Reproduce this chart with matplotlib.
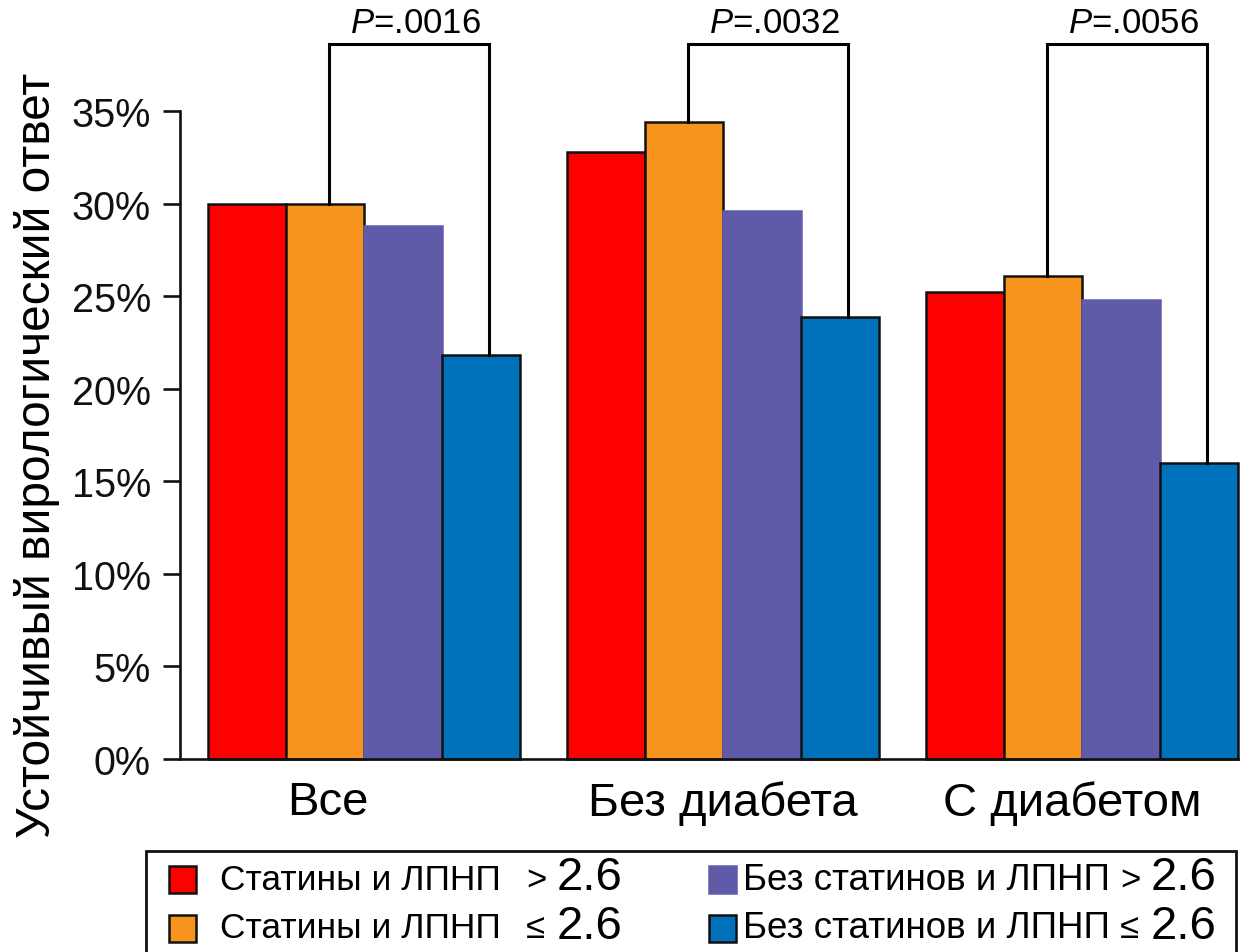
import matplotlib
matplotlib.use("Agg")
import matplotlib.pyplot as plt
from matplotlib.patches import Rectangle
import numpy as np

plt.rcParams['font.family'] = ['Liberation Sans', 'DejaVu Sans']
plt.rcParams['mathtext.fontset'] = 'custom'
plt.rcParams['mathtext.rm'] = 'Liberation Sans'
plt.rcParams['mathtext.it'] = 'Liberation Sans:italic'

# Data
groups = ["Все", "Без диабета", "С диабетом"]
statin_high = [30.0, 32.8, 25.2]      # Статины и ЛПНП > 2.6
statin_low = [30.0, 34.4, 26.1]       # Статины и ЛПНП ≤ 2.6
nostatin_high = [28.8, 29.6, 24.8]    # Без статинов и ЛПНП > 2.6
nostatin_low = [21.8, 23.9, 16.0]     # Без статинов и ЛПНП ≤ 2.6
p_values = ["P=.0016", "P=.0032", "P=.0056"]

series_labels = ["Статины и ЛПНП", "Статины и ЛПНП",
                 "Без статинов и ЛПНП", "Без статинов и ЛПНП"]
series_ops = [">", "≤", ">", "≤"]
threshold = "2.6"
yticks = [0, 5, 10, 15, 20, 25, 30, 35]
ylabel = "Устойчивый вирологический ответ"

series = [statin_high, statin_low, nostatin_high, nostatin_low]
colors = ["#FF0000", "#F7941E", "#5F5BA9", "#0071BB"]
edges = ["#111111", "#111111", "#5F5BA9", "#111111"]

W, H = 1241, 953
fig = plt.figure(figsize=(W / 100, H / 100), dpi=100)
ax = fig.add_axes([180 / W, 1 - 760 / H, (1238 - 180) / W, (760 - 112) / H])

spacing = 4.6
centers = np.arange(len(groups)) * spacing
offsets = [-1.5, -0.5, 0.5, 1.5]

for vals, off, c, ec in zip(series, offsets, colors, edges):
    ax.bar(centers + off, vals, width=1.0, color=c, edgecolor=ec,
           linewidth=1.8, zorder=2, clip_on=False)

# Significance brackets between statin ≤2.6 and no-statin ≤2.6
bracket_top = 38.6
for i, p in enumerate(p_values):
    xl = centers[i] - 0.45
    xr = centers[i] + 1.6
    ax.plot([xl, xl, xr, xr],
            [statin_low[i], bracket_top, bracket_top, nostatin_low[i]],
            color="black", lw=2.2, clip_on=False, zorder=3,
            solid_joinstyle="miter")
    ax.text((xl + xr) / 2 + 0.08, bracket_top + 0.28, "$P$" + p[1:],
            ha="center", va="bottom", fontsize=25)

ax.set_xlim(-2.36, centers[-1] + 2.0)
ax.set_ylim(0, 35)

ax.spines["top"].set_visible(False)
ax.spines["right"].set_visible(False)
ax.spines["left"].set_bounds(0, 35)
for s in ("left", "bottom"):
    ax.spines[s].set_linewidth(1.9)
    ax.spines[s].set_color("#111111")

ax.set_yticks(yticks)
ax.set_yticklabels([f"{v}%" for v in yticks])
ax.tick_params(axis="y", length=12, width=1.9, pad=9, labelsize=28.5,
               colors="#111111")

label_shift = [-0.47, 0.0, -0.12]
ax.set_xticks(centers + np.array(label_shift))
ax.set_xticklabels(groups)
ax.tick_params(axis="x", length=0, pad=15, labelsize=34)

fig.text(37 / W, 1 - 455 / H, ylabel, rotation=90, ha="center",
         va="center", fontsize=34.5)

# Legend box
box_top = 1 - 852 / H
fig.patches.append(Rectangle((146 / W, -0.02), (1236 - 146) / W,
                             box_top + 0.02, transform=fig.transFigure,
                             fill=False, edgecolor="#111111", lw=2.0))

col_patch_x = [169, 169, 709, 709]
col_text_x = [220, 220, 743, 743]
col_op_x = [526, 526, 1120, 1120]
col_num_x = [557, 557, 1151, 1151]
row_idx = [0, 1, 0, 1]
rows_y = [880, 929]
text_size = [25.5, 25.5, 26.5, 26.5]
psize = 27
for k in range(4):
    y = rows_y[row_idx[k]]
    yf = 1 - y / H
    fig.patches.append(Rectangle((col_patch_x[k] / W, 1 - (y + psize / 2) / H),
                                 psize / W, psize / H,
                                 transform=fig.transFigure,
                                 facecolor=colors[k], edgecolor=edges[k],
                                 lw=1.8))
    fig.text(col_text_x[k] / W, yf, series_labels[k], ha="left",
             va="center", fontsize=text_size[k])
    fig.text(col_op_x[k] / W, yf, series_ops[k], ha="left",
             va="center", fontsize=25)
    fig.text(col_num_x[k] / W, yf + 0.002, threshold, ha="left",
             va="center", fontsize=34)

fig.savefig("out.png", dpi=100, facecolor="white")
